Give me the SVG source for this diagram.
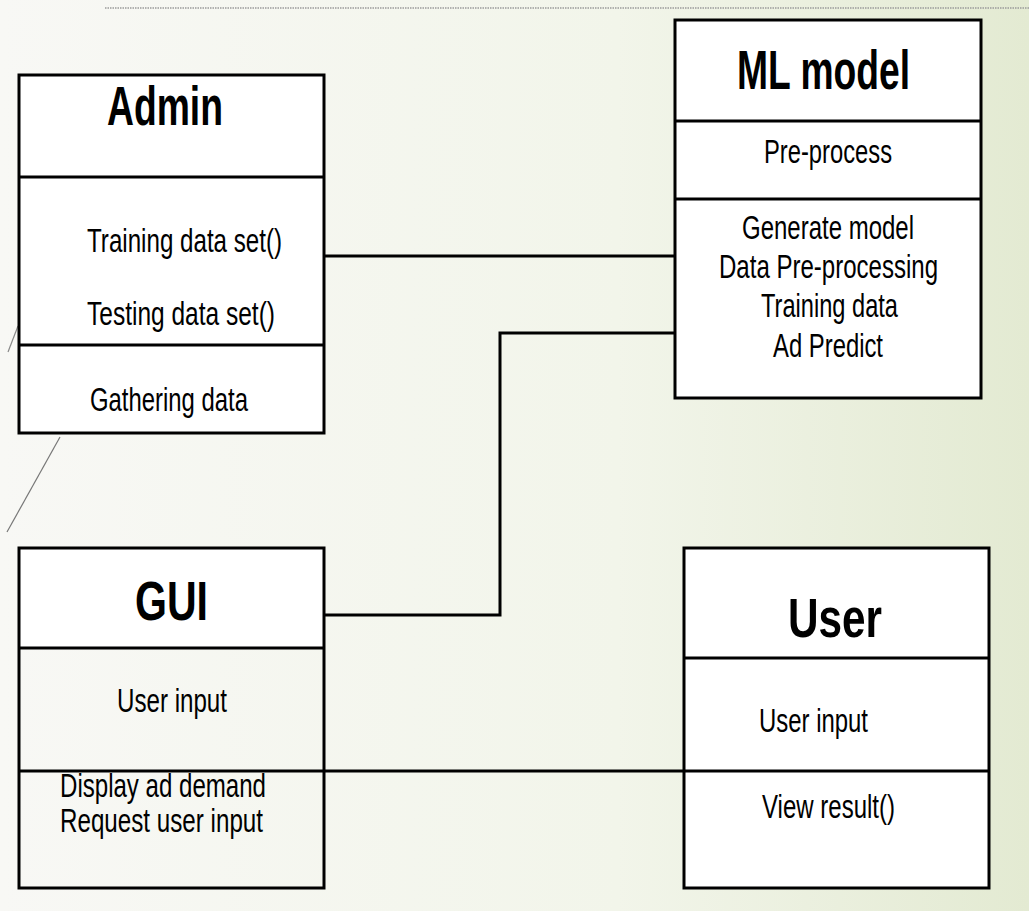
<svg xmlns="http://www.w3.org/2000/svg" width="1029" height="911" viewBox="0 0 1029 911">
<defs>
<linearGradient id="bg" x1="0" y1="0" x2="1" y2="0">
<stop offset="0" stop-color="#f8f8f5"/>
<stop offset="0.6" stop-color="#f2f5ea"/>
<stop offset="1" stop-color="#e3ead2"/>
</linearGradient>
</defs>
<style>
.box{fill:#ffffff;stroke:#000;stroke-width:3}
.clear{fill:none;stroke:#000;stroke-width:3}
.div{stroke:#000;stroke-width:3}
.conn{fill:none;stroke:#000;stroke-width:3}
.t{font-family:"Liberation Sans",Arial,sans-serif;font-size:34px;fill:#000}
.h{font-family:"Liberation Sans",Arial,sans-serif;font-size:56px;font-weight:bold;fill:#000}
</style>
<rect x="0" y="0" width="1029" height="911" fill="url(#bg)"/>
<line x1="105" y1="8" x2="1029" y2="8" stroke="#9a9a9a" stroke-width="1.5" stroke-dasharray="1.5 1"/>
<path d="M18 326 L8 352" stroke="#888" stroke-width="1.2" fill="none"/>
<path d="M60 437 L7 532" stroke="#777" stroke-width="1.2" fill="none"/>

<g id="connectors">
<line class="conn" x1="324" y1="256" x2="675" y2="256"/>
<polyline class="conn" points="675,333 500,333 500,615 324,615"/>
<line class="conn" x1="19" y1="771" x2="685" y2="771"/>
</g>

<g id="admin">
<rect class="box" x="19" y="75" width="305" height="358"/>
<line class="div" x1="19" y1="177" x2="324" y2="177"/>
<line class="div" x1="19" y1="345" x2="324" y2="345"/>
<text class="h" x="107" y="125" textLength="116" lengthAdjust="spacingAndGlyphs">Admin</text>
<text class="t" x="87" y="252" textLength="195" lengthAdjust="spacingAndGlyphs">Training data set()</text>
<text class="t" x="87" y="325" textLength="188" lengthAdjust="spacingAndGlyphs">Testing data set()</text>
<text class="t" x="90" y="411" textLength="158" lengthAdjust="spacingAndGlyphs">Gathering data</text>
</g>

<g id="ml-model">
<rect class="box" x="675" y="20" width="306" height="378"/>
<line class="div" x1="675" y1="121" x2="981" y2="121"/>
<line class="div" x1="675" y1="199" x2="981" y2="199"/>
<text class="h" x="737" y="89" textLength="173" lengthAdjust="spacingAndGlyphs">ML model</text>
<text class="t" x="764" y="163" textLength="128" lengthAdjust="spacingAndGlyphs">Pre-process</text>
<text class="t" x="742" y="239" textLength="172" lengthAdjust="spacingAndGlyphs">Generate model</text>
<text class="t" x="719" y="278" textLength="219" lengthAdjust="spacingAndGlyphs">Data Pre-processing</text>
<text class="t" x="761" y="317" textLength="137" lengthAdjust="spacingAndGlyphs">Training data</text>
<text class="t" x="773" y="357" textLength="110" lengthAdjust="spacingAndGlyphs">Ad Predict</text>
</g>

<g id="gui">
<rect fill="#ffffff" x="19" y="548" width="305" height="100"/>
<rect class="clear" x="19" y="548" width="305" height="340"/>
<line class="div" x1="19" y1="648" x2="324" y2="648"/>
<text class="h" x="135" y="620" textLength="73" lengthAdjust="spacingAndGlyphs">GUI</text>
<text class="t" x="117" y="712" textLength="110" lengthAdjust="spacingAndGlyphs">User input</text>
<text class="t" x="60" y="797" textLength="206" lengthAdjust="spacingAndGlyphs">Display ad demand</text>
<text class="t" x="60" y="832" textLength="203" lengthAdjust="spacingAndGlyphs">Request user input</text>
</g>

<g id="user">
<rect class="box" x="684" y="548" width="305" height="340"/>
<line class="div" x1="684" y1="658" x2="989" y2="658"/>
<line class="div" x1="684" y1="771" x2="989" y2="771"/>
<text class="h" x="788" y="637" textLength="94" lengthAdjust="spacingAndGlyphs">User</text>
<text class="t" x="759" y="732" textLength="109" lengthAdjust="spacingAndGlyphs">User input</text>
<text class="t" x="762" y="818" textLength="133" lengthAdjust="spacingAndGlyphs">View result()</text>
</g>
</svg>
